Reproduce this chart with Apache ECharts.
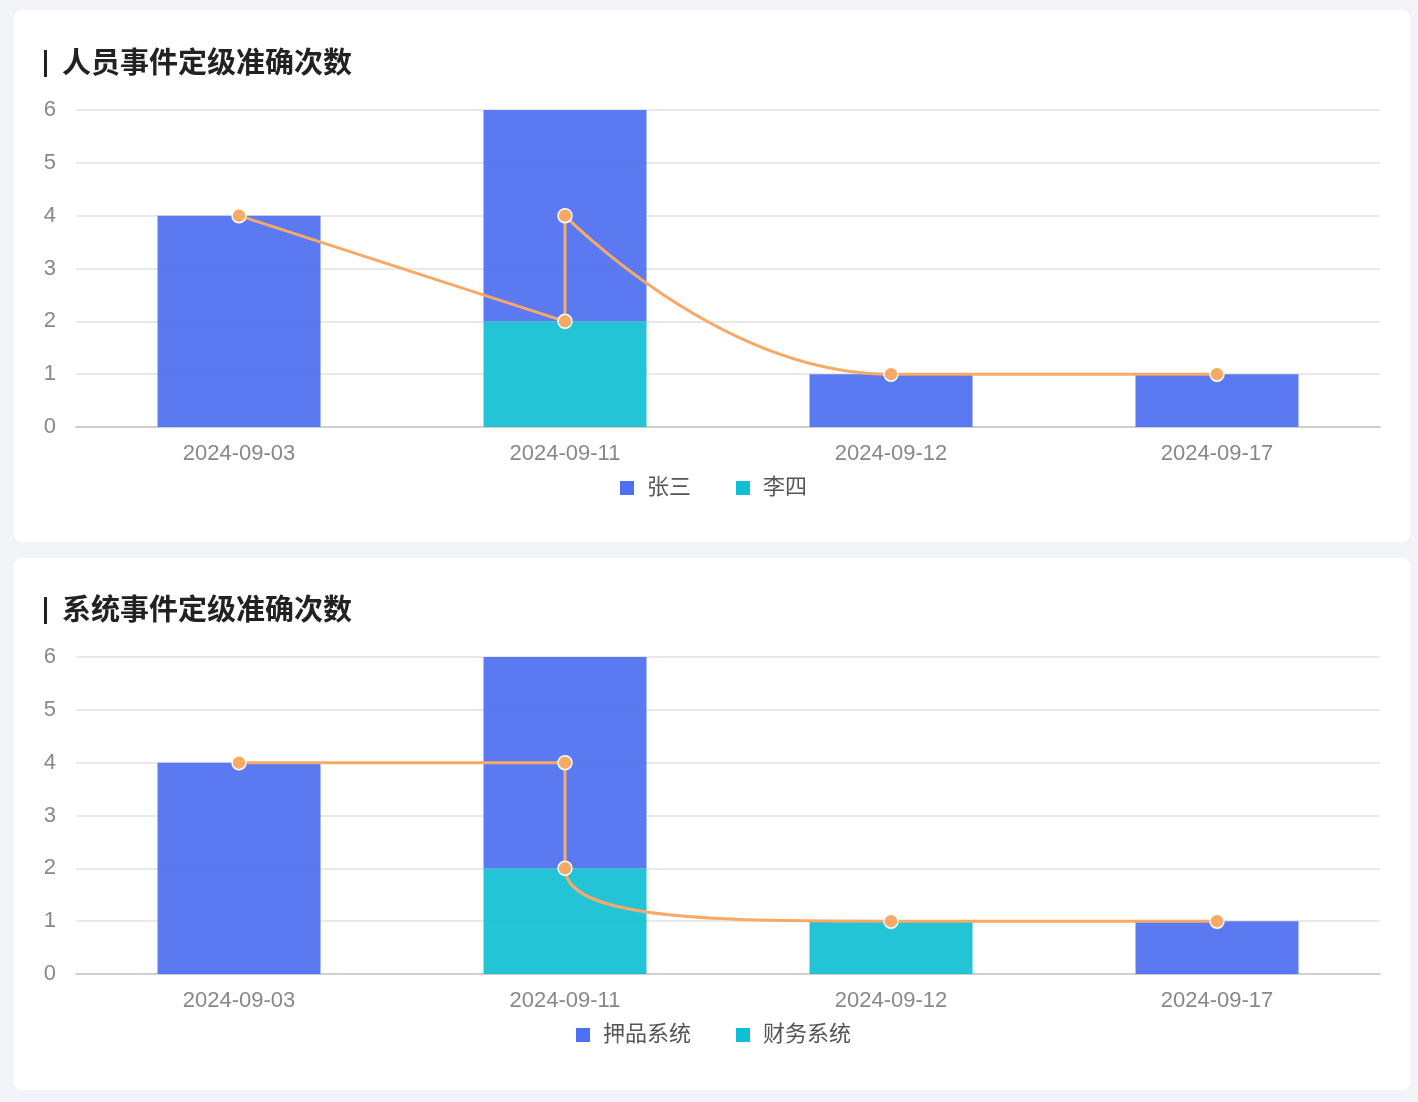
<!DOCTYPE html>
<html>
<head>
<meta charset="utf-8">
<script src="https://cdn.jsdelivr.net/npm/echarts@6/dist/echarts.min.js"></script>
<style>
html,body{margin:0;padding:0;background:#f2f4f8;}
#c{width:1418px;height:1102px;}
</style>
</head>
<body>
<div id="c"></div>
<script>
// ---- data ----
const categories = ['2024-09-03', '2024-09-11', '2024-09-12', '2024-09-17'];

const title1 = '人员事件定级准确次数';
const seriesNames1 = ['张三', '李四'];
const zhangsan = [4, 4, 1, 1];
const lisi = [0, 2, 0, 0];
const lineCats1 = ['2024-09-03', '2024-09-11', '2024-09-11', '2024-09-12', '2024-09-17'];
const lineVals1 = [4, 2, 4, 1, 1];

const title2 = '系统事件定级准确次数';
const seriesNames2 = ['押品系统', '财务系统'];
const yapin = [4, 4, 0, 1];
const caiwu = [0, 2, 1, 0];
const lineCats2 = ['2024-09-03', '2024-09-11', '2024-09-11', '2024-09-12', '2024-09-17'];
const lineVals2 = [4, 4, 2, 1, 1];

const yTicks = [0, 1, 2, 3, 4, 5, 6];

// ---- styles ----
const FONT = 'Helvetica, Arial, "Liberation Sans", "Noto Sans CJK SC", sans-serif';
const BLUE = '#4d6ff0';
const TEAL = '#0fbfd3';
const ORANGE = '#f8a966';

const chart = echarts.init(document.getElementById('c'), null, {renderer: 'canvas'});

function zip(a, b) { return a.map((v, i) => [v, b[i]]); }

function xAxis(gi) {
  return {
    type: 'category', gridIndex: gi, data: categories,
    axisLine: {lineStyle: {color: '#c6c6c6', width: 1.5}},
    axisTick: {alignWithLabel: true, length: 5, lineStyle: {color: '#c6c6c6'}},
    axisLabel: {color: '#888', fontSize: 22, fontFamily: FONT, margin: 16}
  };
}
function yAxis(gi) {
  return {
    type: 'value', gridIndex: gi, min: yTicks[0], max: yTicks[yTicks.length - 1], interval: 1,
    axisLine: {show: false}, axisTick: {show: false},
    axisLabel: {color: '#888', fontSize: 22, fontFamily: FONT, margin: 20},
    splitLine: {lineStyle: {color: '#e2e2e2', width: 1.5}}
  };
}
function bar(name, data, color, gi, stack) {
  return {
    type: 'bar', name, data, stack, barWidth: '50%',
    xAxisIndex: gi, yAxisIndex: gi,
    itemStyle: {color, opacity: 0.92}
  };
}
function line(cats, vals, gi) {
  return {
    type: 'line', data: zip(cats, vals), smooth: true, z: 5,
    xAxisIndex: gi, yAxisIndex: gi,
    symbol: 'circle', symbolSize: 14,
    lineStyle: {color: ORANGE, width: 3},
    itemStyle: {color: ORANGE, borderColor: '#fff', borderWidth: 1.5}
  };
}
function legend(names, left, top) {
  return {
    data: names, top, left, padding: 0, icon: 'rect', itemWidth: 14, itemHeight: 14,
    itemGap: 45, itemStyle: {opacity: 1},
    textStyle: {color: '#555', fontSize: 22, fontFamily: FONT, padding: [0, 0, 0, 8]}
  };
}

chart.setOption({
  backgroundColor: '#f2f4f8',
  animation: false,
  graphic: [
    {type: 'rect', shape: {x: 14, y: 10, width: 1396, height: 532, r: 8}, style: {fill: '#fff'}, z: -10},
    {type: 'rect', shape: {x: 14, y: 558, width: 1396, height: 532, r: 8}, style: {fill: '#fff'}, z: -10},
    {type: 'rect', shape: {x: 44, y: 50, width: 3, height: 27}, style: {fill: '#222'}},
    {type: 'rect', shape: {x: 44, y: 597, width: 3, height: 27}, style: {fill: '#222'}}
  ],
  title: [
    {text: title1, left: 62, top: 50, padding: 0, textStyle: {color: '#222', fontSize: 29, fontWeight: 'bold', fontFamily: FONT}},
    {text: title2, left: 62, top: 597, padding: 0, textStyle: {color: '#222', fontSize: 29, fontWeight: 'bold', fontFamily: FONT}}
  ],
  legend: [legend(seriesNames1, 620, 477), legend(seriesNames2, 576, 1024)],
  grid: [
    {left: 76, right: 38, top: 110, height: 317},
    {left: 76, right: 38, top: 657, height: 317}
  ],
  xAxis: [xAxis(0), xAxis(1)],
  yAxis: [yAxis(0), yAxis(1)],
  series: [
    bar(seriesNames1[1], lisi, TEAL, 0, 's1'),
    bar(seriesNames1[0], zhangsan, BLUE, 0, 's1'),
    line(lineCats1, lineVals1, 0),
    bar(seriesNames2[1], caiwu, TEAL, 1, 's2'),
    bar(seriesNames2[0], yapin, BLUE, 1, 's2'),
    line(lineCats2, lineVals2, 1)
  ]
});
</script>
</body>
</html>
